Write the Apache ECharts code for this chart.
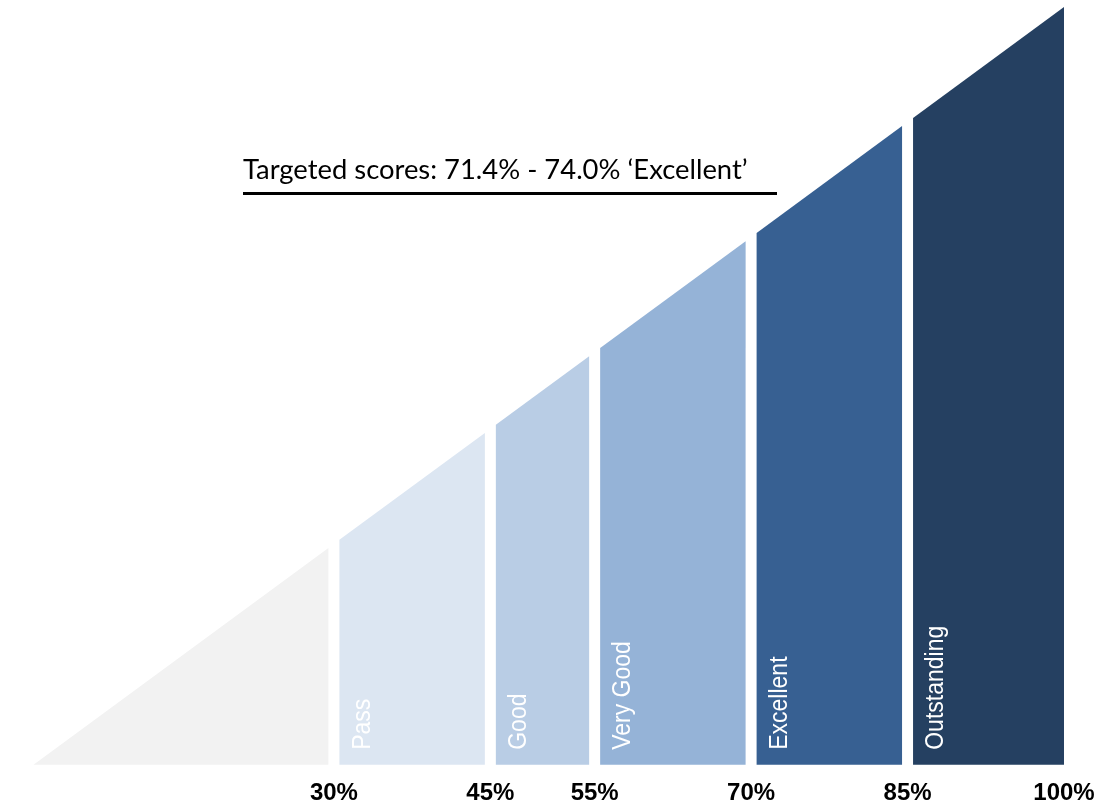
<!DOCTYPE html>
<html>
<head>
<meta charset="utf-8">
<script src="https://cdn.jsdelivr.net/npm/echarts@6/dist/echarts.min.js"></script>
<style>html,body{margin:0;padding:0;background:#fff}#c{width:1112px;height:807px}</style>
</head>
<body>
<div id="c"></div>
<script>
// Grade bands (score %)
const bandStarts = [0, 30, 45, 55, 70, 85];
const bandEnds = [30, 45, 55, 70, 85, 100];
const bandNames = ['', 'Pass', 'Good', 'Very Good', 'Excellent', 'Outstanding'];
const bandColors = ['#F2F2F2', '#DCE6F2', '#B9CDE5', '#95B3D7', '#376092', '#254061'];
const tickValues = [30, 45, 55, 70, 85, 100];
const rampStart = 1.2;
const annotationText = 'Targeted scores: 71.4% - 74.0% \u2018Excellent\u2019';

const chart = echarts.init(document.getElementById('c'), null, {renderer: 'canvas'});
const data = bandStarts.map((s, i) => [s, bandEnds[i], i]);

function renderItem(params, api) {
  const s = Math.max(api.value(0), rampStart);
  const e = api.value(1);
  const idx = api.value(2);
  const last = idx === bandStarts.length - 1;
  const gap = 5.5;
  const p0 = api.coord([s, s]);
  const p1 = api.coord([e, e]);
  const base = api.coord([0, rampStart])[1];
  const slope = (p1[1] - p0[1]) / (p1[0] - p0[0]);
  const xl = idx === 0 ? p0[0] : p0[0] + gap;
  const xr = last ? p1[0] : p1[0] - gap;
  const topAt = x => p0[1] + slope * (x - p0[0]);
  const children = [{
    type: 'polygon',
    shape: {points: [[xl, base], [xl, topAt(xl)], [xr, topAt(xr)], [xr, base]]},
    style: {fill: bandColors[idx]}
  }];
  if (bandNames[idx]) {
    children.push({
      type: 'text',
      x: xl + 23,
      y: base - 15,
      rotation: Math.PI / 2,
      scaleY: 1.15,
      style: {
        text: bandNames[idx],
        fill: '#ffffff',
        font: '23px "Liberation Sans", Arial, sans-serif',
        align: 'left',
        verticalAlign: 'middle'
      }
    });
  }
  return {type: 'group', children};
}

chart.setOption({
  animation: false,
  grid: {left: 21, right: 48, top: 7, bottom: 33},
  xAxis: {
    type: 'value', min: 0, max: 100,
    axisLine: {show: false}, axisTick: {show: false}, splitLine: {show: false},
    axisLabel: {
      customValues: tickValues,
      formatter: '{value}%',
      margin: 7,
      color: '#000',
      fontWeight: 'bold',
      fontSize: 24,
      fontFamily: '"Liberation Sans", Arial, sans-serif'
    }
  },
  yAxis: {
    type: 'value', min: 0, max: 100, show: false
  },
  series: [{
    type: 'custom',
    renderItem: renderItem,
    data: data,
    clip: false
  }],
  graphic: [
    {
      type: 'text', left: 243, top: 157,
      style: {text: annotationText, fill: '#000', font: '27.4px Lato, "Open Sans", sans-serif'}
    },
    {
      type: 'rect', left: 243, top: 192,
      shape: {width: 534, height: 3},
      style: {fill: '#000'}
    }
  ]
});
</script>
</body>
</html>
